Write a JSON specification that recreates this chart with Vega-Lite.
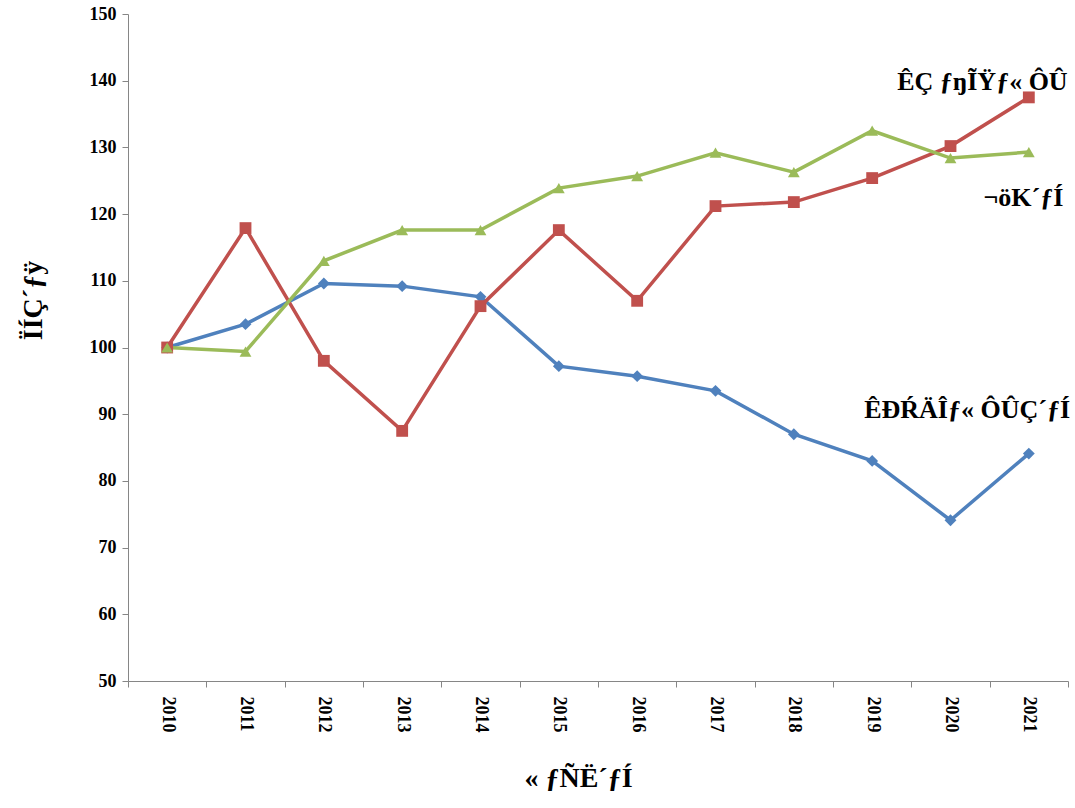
{
  "$schema": "https://vega.github.io/schema/vega-lite/v6.json",
  "width": 940,
  "height": 667,
  "autosize": {"type": "none"},
  "padding": {"left": 128, "top": 14, "right": 7, "bottom": 127},
  "background": "white",
  "config": {"view": {"stroke": null}, "font": "Liberation Serif"},
  "datasets": {
    "series": [
      {"year": "2010", "s": "blue", "v": 100}, {"year": "2011", "s": "blue", "v": 103.5}, {"year": "2012", "s": "blue", "v": 109.6},
      {"year": "2013", "s": "blue", "v": 109.2}, {"year": "2014", "s": "blue", "v": 107.6}, {"year": "2015", "s": "blue", "v": 97.2},
      {"year": "2016", "s": "blue", "v": 95.7}, {"year": "2017", "s": "blue", "v": 93.5}, {"year": "2018", "s": "blue", "v": 87.0},
      {"year": "2019", "s": "blue", "v": 83.0}, {"year": "2020", "s": "blue", "v": 74.1}, {"year": "2021", "s": "blue", "v": 84.1},
      {"year": "2010", "s": "red", "v": 100}, {"year": "2011", "s": "red", "v": 117.9}, {"year": "2012", "s": "red", "v": 98.0},
      {"year": "2013", "s": "red", "v": 87.5}, {"year": "2014", "s": "red", "v": 106.2}, {"year": "2015", "s": "red", "v": 117.6},
      {"year": "2016", "s": "red", "v": 107.0}, {"year": "2017", "s": "red", "v": 121.2}, {"year": "2018", "s": "red", "v": 121.8},
      {"year": "2019", "s": "red", "v": 125.4}, {"year": "2020", "s": "red", "v": 130.2}, {"year": "2021", "s": "red", "v": 137.5},
      {"year": "2010", "s": "green", "v": 100}, {"year": "2011", "s": "green", "v": 99.4}, {"year": "2012", "s": "green", "v": 113.0},
      {"year": "2013", "s": "green", "v": 117.6}, {"year": "2014", "s": "green", "v": 117.6}, {"year": "2015", "s": "green", "v": 123.9},
      {"year": "2016", "s": "green", "v": 125.7}, {"year": "2017", "s": "green", "v": 129.2}, {"year": "2018", "s": "green", "v": 126.3},
      {"year": "2019", "s": "green", "v": 132.5}, {"year": "2020", "s": "green", "v": 128.4}, {"year": "2021", "s": "green", "v": 129.3}
    ],
    "labels": [
      {"year": "2019", "v": 139.8, "t": "ÊÇ ƒŋĨŸƒ« ÔÛ", "s": "red"},
      {"year": "2020", "v": 122.4, "t": "¬öK´ƒÍ", "s": "green"},
      {"year": "2019", "v": 90.6, "t": "ÊÐŔÄÎƒ« ÔÛÇ´ƒÍ", "s": "blue"}
    ]
  },
  "layer": [
    {
      "data": {"name": "series"},
      "mark": {"type": "line", "strokeWidth": 3.5},
      "encoding": {
        "x": {"field": "year", "type": "ordinal", "scale": {"type": "band", "paddingInner": 0, "paddingOuter": 0},
          "axis": {"title": "« ƒÑË´ƒÍ", "titleFontSize": 28, "titleFont": "Liberation Serif", "titleFontWeight": "bold", "titleColor": "black", "titlePadding": 32, "titleX": 450,
            "labelAngle": 90, "labelFontSize": 18, "labelFontWeight": "bold", "labelColor": "black", "labelPadding": 9, "labelFont": "Liberation Serif",
            "tickBand": "extent", "tickSize": 6, "tickColor": "#868686", "domainColor": "#868686", "grid": false}},
        "y": {"field": "v", "type": "quantitative", "scale": {"domain": [50, 150], "nice": false, "zero": false},
          "axis": {"values": [50, 60, 70, 80, 90, 100, 110, 120, 130, 140, 150], "title": "ÏÍÇ´ƒÿ", "titleFontSize": 28, "titleFont": "Liberation Serif", "titleFontWeight": "bold", "titleColor": "black", "titlePadding": 42, "titleY": 286,
            "labelFontSize": 18, "labelFontWeight": "bold", "labelColor": "black", "labelPadding": 6, "labelFont": "Liberation Serif",
            "tickSize": 6, "tickColor": "#868686", "domainColor": "#868686", "grid": false}},
        "color": {"field": "s", "type": "nominal", "scale": {"domain": ["blue", "red", "green"], "range": ["#4F81BD", "#C0504D", "#9BBB59"]}, "legend": null},
        "detail": {"field": "s"}
      }
    },
    {
      "data": {"name": "series"},
      "mark": {"type": "point", "filled": true, "opacity": 1, "size": 140},
      "encoding": {
        "x": {"field": "year", "type": "ordinal"},
        "y": {"field": "v", "type": "quantitative"},
        "color": {"field": "s", "type": "nominal", "legend": null},
        "shape": {"field": "s", "type": "nominal", "scale": {"domain": ["blue", "red", "green"], "range": ["diamond", "square", "triangle-up"]}, "legend": null}
      }
    },
    {
      "data": {"name": "labels"},
      "transform": [{"filter": "datum.s === 'red'"}],
      "mark": {"type": "text", "align": "left", "baseline": "middle", "fontSize": 26, "fontWeight": "bold", "font": "Liberation Serif", "color": "black", "dx": 25},
      "encoding": {"x": {"field": "year", "type": "ordinal"}, "y": {"field": "v", "type": "quantitative"}, "text": {"field": "t"}}
    },
    {
      "data": {"name": "labels"},
      "transform": [{"filter": "datum.s === 'green'"}],
      "mark": {"type": "text", "align": "left", "baseline": "middle", "fontSize": 26, "fontWeight": "bold", "font": "Liberation Serif", "color": "black", "dx": 33},
      "encoding": {"x": {"field": "year", "type": "ordinal"}, "y": {"field": "v", "type": "quantitative"}, "text": {"field": "t"}}
    },
    {
      "data": {"name": "labels"},
      "transform": [{"filter": "datum.s === 'blue'"}],
      "mark": {"type": "text", "align": "left", "baseline": "middle", "fontSize": 26, "fontWeight": "bold", "font": "Liberation Serif", "color": "black", "dx": -8},
      "encoding": {"x": {"field": "year", "type": "ordinal"}, "y": {"field": "v", "type": "quantitative"}, "text": {"field": "t"}}
    }
  ]
}
